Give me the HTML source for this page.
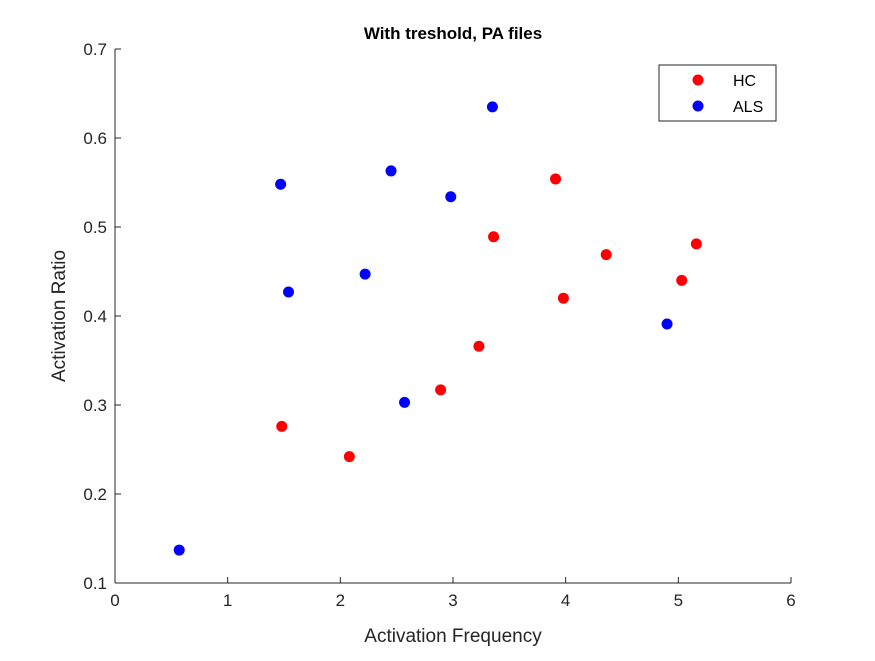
<!DOCTYPE html>
<html><head><meta charset="utf-8"><style>
body{margin:0;background:#fff;font-family:"Liberation Sans",sans-serif}
svg text{font-family:"Liberation Sans",sans-serif}
</style></head><body>
<svg id="chart" width="875" height="656">
<rect x="0" y="0" width="875" height="656" fill="#fff"/>
<g id="axes"></g><g id="pts"></g>
<text x="453" y="39" text-anchor="middle" font-size="17" font-weight="bold">With treshold, PA files</text>
<text x="453" y="642" text-anchor="middle" font-size="19" fill="#262626">Activation Frequency</text>
<text transform="translate(65,316) rotate(-90)" text-anchor="middle" font-size="19" fill="#262626">Activation Ratio</text>
<g>
<rect x="659" y="65" width="117" height="56" fill="#fff" stroke="#262626" stroke-width="1"/>
<circle cx="698" cy="80" r="5.5" fill="#ff0000"/>
<text x="733" y="86" font-size="16" fill="#000">HC</text>
<circle cx="698" cy="106" r="5.5" fill="#0000ff"/>
<text x="733" y="112" font-size="16" fill="#000">ALS</text>
</g>
</svg>
<script>
const xTicks=[0,1,2,3,4,5,6];
const yTicks=[0.1,0.2,0.3,0.4,0.5,0.6,0.7];
const hcX=[1.48,2.08,2.89,3.23,3.36,3.91,3.98,4.36,5.03,5.16];
const hcY=[0.276,0.242,0.317,0.366,0.489,0.554,0.420,0.469,0.440,0.481];
const alsX=[0.57,1.47,1.54,2.22,2.45,2.57,2.98,3.35,4.90];
const alsY=[0.137,0.548,0.427,0.447,0.563,0.303,0.534,0.635,0.391];
const L=115,R=791,T=49,B=583;
const sx=v=>L+(v-0)/6*(R-L);
const sy=v=>B-(v-0.1)/0.6*(B-T);
const NS='http://www.w3.org/2000/svg';
const ax=document.getElementById('axes');
function mk(t,a,p){const e=document.createElementNS(NS,t);for(const k in a)e.setAttribute(k,a[k]);(p||ax).appendChild(e);return e;}
const xl=mk('line',{x1:L,y1:B,x2:R,y2:B,stroke:'#262626'});


const yl=mk('line',{x1:L,y1:T,x2:L,y2:B,stroke:'#262626'});


xTicks.forEach(v=>{const x=sx(v);mk('line',{x1:x,y1:B,x2:x,y2:B-6,stroke:'#262626'});
const t=mk('text',{x:x,y:B+23,'text-anchor':'middle','font-size':'17',fill:'#262626'});t.textContent=v;

});
yTicks.forEach(v=>{const y=sy(v);mk('line',{x1:L,y1:y,x2:L+6,y2:y,stroke:'#262626'});
const t=mk('text',{x:L-8,y:y+6,'text-anchor':'end','font-size':'17',fill:'#262626'});t.textContent=v.toFixed(1);

});
const pg=document.getElementById('pts');
hcX.forEach((v,i)=>{const c=mk('circle',{cx:sx(v),cy:sy(hcY[i]),r:5.5,fill:'#ff0000'},pg);

});
alsX.forEach((v,i)=>{const c=mk('circle',{cx:sx(v),cy:sy(alsY[i]),r:5.5,fill:'#0000ff'},pg);

});
</script>
</body></html>
